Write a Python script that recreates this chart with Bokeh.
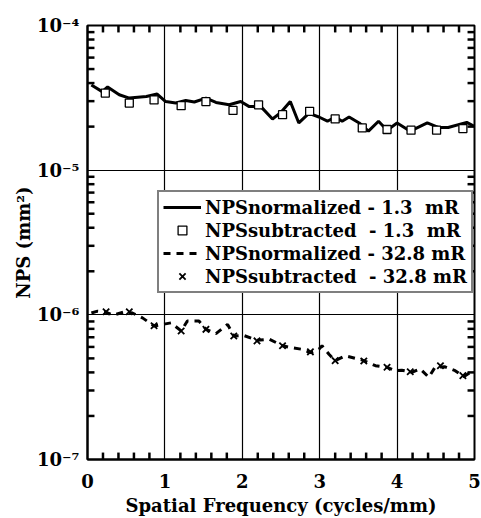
from bokeh.plotting import figure
from bokeh.models import (Legend, LegendItem, CustomJSTickFormatter,
                          FixedTicker, Range1d)
from bokeh.embed import file_html
from bokeh.resources import INLINE

# ---- data ----
freq_norm_low = [0.05, 0.19, 0.26, 0.41, 0.54, 0.76, 0.90, 1.01, 1.14, 1.27, 1.38, 1.53, 1.66, 1.83,
                 1.98, 2.09, 2.24, 2.39, 2.50, 2.62, 2.73, 2.86, 2.99, 3.10, 3.20, 3.29, 3.38, 3.51,
                 3.63, 3.76, 3.87, 4.00, 4.17, 4.39, 4.54, 4.66, 4.90, 4.99]
nps_norm_low = [3.88e-5, 3.49e-5, 3.76e-5, 3.32e-5, 3.15e-5, 3.23e-5, 3.36e-5, 2.98e-5, 2.91e-5,
                3.03e-5, 2.96e-5, 3.15e-5, 2.94e-5, 2.83e-5, 2.98e-5, 2.75e-5, 2.75e-5, 2.26e-5,
                2.51e-5, 2.98e-5, 2.12e-5, 2.47e-5, 2.33e-5, 2.18e-5, 2.33e-5, 2.18e-5, 2.33e-5,
                2.12e-5, 1.86e-5, 2.18e-5, 1.89e-5, 2.12e-5, 1.86e-5, 2.12e-5, 1.97e-5, 1.97e-5,
                2.14e-5, 2.02e-5]

freq_sub_low = [0.23, 0.54, 0.86, 1.21, 1.53, 1.88, 2.21, 2.52, 2.87, 3.20, 3.55, 3.87, 4.18, 4.51, 4.85]
nps_sub_low = [3.41e-5, 2.91e-5, 3.06e-5, 2.79e-5, 2.98e-5, 2.59e-5, 2.83e-5, 2.42e-5, 2.55e-5,
               2.26e-5, 1.96e-5, 1.91e-5, 1.89e-5, 1.89e-5, 1.94e-5]

freq_norm_high = [0.05, 0.13, 0.22, 0.33, 0.48, 0.58, 0.71, 0.86, 1.08, 1.21, 1.29, 1.44, 1.53, 1.66,
                  1.81, 1.89, 2.02, 2.19, 2.35, 2.52, 2.62, 2.77, 2.88, 2.99, 3.03, 3.12, 3.20, 3.33,
                  3.55, 3.72, 3.87, 3.98, 4.06, 4.19, 4.30, 4.41, 4.49, 4.62, 4.75, 4.86, 4.99]
nps_norm_high = [1.03e-6, 1.06e-6, 1.05e-6, 0.995e-6, 1.05e-6, 1.03e-6, 0.953e-6, 0.838e-6, 0.88e-6,
                 0.773e-6, 0.906e-6, 0.906e-6, 0.794e-6, 0.742e-6, 0.859e-6, 0.714e-6, 0.72e-6,
                 0.667e-6, 0.678e-6, 0.611e-6, 0.594e-6, 0.578e-6, 0.549e-6, 0.578e-6, 0.611e-6,
                 0.534e-6, 0.482e-6, 0.521e-6, 0.487e-6, 0.445e-6, 0.434e-6, 0.411e-6, 0.414e-6,
                 0.401e-6, 0.422e-6, 0.370e-6, 0.434e-6, 0.437e-6, 0.411e-6, 0.374e-6, 0.414e-6]

freq_sub_high = [0.24, 0.54, 0.86, 1.21, 1.53, 1.89, 2.19, 2.52, 2.88, 3.20, 3.57, 3.87, 4.17, 4.56, 4.85]
nps_sub_high = [1.05e-6, 1.05e-6, 0.84e-6, 0.773e-6, 0.794e-6, 0.714e-6, 0.66e-6, 0.611e-6,
                0.555e-6, 0.482e-6, 0.48e-6, 0.434e-6, 0.404e-6, 0.445e-6, 0.38e-6]

legend_labels = ["NPSnormalized - 1.3  mR", "NPSsubtracted  - 1.3  mR",
                 "NPSnormalized - 32.8 mR", "NPSsubtracted  - 32.8 mR"]
x_lo, x_hi = 0, 5
y_lo, y_hi = 1e-7, 1e-4
x_ticks = [0, 1, 2, 3, 4, 5]
y_ticks = [1e-7, 1e-6, 1e-5, 1e-4]
x_minor = [t + k / 5 for t in x_ticks[:-1] for k in range(1, 5)]
y_minor = [m * t for t in y_ticks[:-1] for m in range(2, 10)]

FONT = "DejaVu Serif"

p = figure(frame_width=387, frame_height=434, x_range=Range1d(x_lo, x_hi), y_range=Range1d(y_lo, y_hi),
           y_axis_type="log", output_backend="svg", toolbar_location=None,
           min_border_left=87, min_border_right=7, min_border_top=25, min_border_bottom=10,
           background_fill_color="white", border_fill_color="white")

p.outline_line_color = "black"
p.outline_line_width = 2

sup_fmt = CustomJSTickFormatter(code="""
const e = Math.round(Math.log10(tick));
const map = {'-':'\u207b','0':'\u2070','1':'\u00b9','2':'\u00b2','3':'\u00b3','4':'\u2074',
             '5':'\u2075','6':'\u2076','7':'\u2077','8':'\u2078','9':'\u2079'};
return '10' + String(e).split('').map(c => map[c]).join('');
""")

def style_axis(ax):
    ax.axis_line_color = "black"
    ax.axis_line_width = 2
    ax.major_tick_in = 0
    ax.major_tick_out = 0
    ax.minor_tick_in = 0
    ax.minor_tick_out = 0
    ax.major_label_text_font = FONT
    ax.major_label_text_font_style = "bold"
    ax.major_label_text_font_size = "18px"
    ax.major_label_text_color = "black"
    ax.axis_label_text_font = FONT
    ax.axis_label_text_font_style = "bold"
    ax.axis_label_text_font_size = "18px"
    ax.axis_label_text_color = "black"

xa = p.xaxis[0]
xa.ticker = FixedTicker(ticks=x_ticks)
xa.axis_label = "Spatial Frequency (cycles/mm)"
style_axis(xa)
xa.major_label_standoff = 14
xa.axis_label_standoff = 4

ya = p.yaxis[0]
ya.ticker = FixedTicker(ticks=y_ticks)
ya.formatter = sup_fmt
ya.axis_label = "NPS (mm\u00b2)"
style_axis(ya)
ya.major_label_standoff = 8
ya.axis_label_standoff = 0

p.xgrid.ticker = FixedTicker(ticks=x_ticks)
p.ygrid.ticker = FixedTicker(ticks=y_ticks)
for g in (p.xgrid[0], p.ygrid[0]):
    g.grid_line_color = "black"
    g.grid_line_width = 1.2
    g.grid_line_alpha = 1.0

# inward minor tick marks on all four sides, built from the minor-tick lists
tick_dx = (x_hi - x_lo) * 0.018          # ~7 px in x
tick_fy = (y_hi / y_lo) ** 0.016         # ~7 px in log y
n_y, n_x = len(y_minor), len(x_minor)
p.segment(x0=[x_lo] * n_y, y0=y_minor, x1=[x_lo + tick_dx] * n_y, y1=y_minor,
          line_color="black", line_width=2.5, level="overlay")
p.segment(x0=[x_hi] * n_y, y0=y_minor, x1=[x_hi - tick_dx] * n_y, y1=y_minor,
          line_color="black", line_width=2.5, level="overlay")
p.segment(x0=x_minor, y0=[y_lo] * n_x, x1=x_minor, y1=[y_lo * tick_fy] * n_x,
          line_color="black", line_width=2.5, level="overlay")
p.segment(x0=x_minor, y0=[y_hi] * n_x, x1=x_minor, y1=[y_hi / tick_fy] * n_x,
          line_color="black", line_width=2.5, level="overlay")

r1 = p.line(freq_norm_low, nps_norm_low, line_color="black", line_width=3)
r2 = p.scatter(freq_sub_low, nps_sub_low, marker="square", size=8, fill_color="white",
               line_color="black", line_width=1.3)
r3 = p.line(freq_norm_high, nps_norm_high, line_color="black", line_width=3, line_dash="7 6")
r4 = p.scatter(freq_sub_high, nps_sub_high, marker="x", size=9, line_color="black", line_width=1.8)

legend = Legend(items=[LegendItem(label=legend_labels[0], renderers=[r1]),
                       LegendItem(label=legend_labels[1], renderers=[r2]),
                       LegendItem(label=legend_labels[2], renderers=[r3]),
                       LegendItem(label=legend_labels[3], renderers=[r4])],
                location=(70, 166))
legend.label_text_font = FONT
legend.label_text_font_style = "bold"
legend.label_text_font_size = "18px"
legend.label_text_color = "black"
legend.label_height = 22
legend.glyph_height = 22
legend.glyph_width = 38
legend.label_standoff = 4
legend.spacing = 1
legend.padding = 4
legend.margin = 0
legend.border_line_color = "black"
legend.border_line_width = 2
legend.background_fill_color = "white"
legend.background_fill_alpha = 1.0
p.add_layout(legend, "center")

open("out.html", "w").write(file_html(p, INLINE))
